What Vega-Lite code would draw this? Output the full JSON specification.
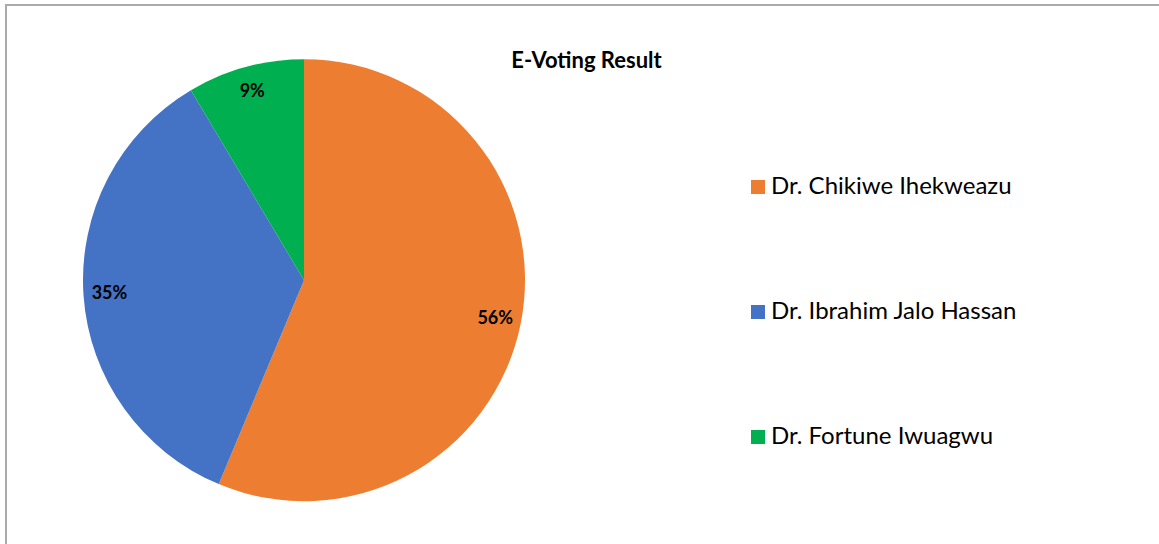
{
  "$schema": "https://vega.github.io/schema/vega-lite/v6.json",
  "width": 1155,
  "height": 541,
  "autosize": {"type": "none"},
  "padding": {"left": 6, "top": 5, "right": -2, "bottom": -2},
  "background": "white",
  "view": {"stroke": "#ABABAB", "strokeWidth": 2},
  "config": {
    "view": {"stroke": "#ABABAB", "strokeWidth": 2},
    "font": "Lato"
  },
  "title": {
    "text": "E-Voting Result",
    "font": "Lato",
    "fontSize": 22,
    "fontWeight": "bold",
    "color": "#000000",
    "anchor": "middle",
    "frame": "group",
    "baseline": "alphabetic",
    "offset": -85,
    "dx": 3
  },
  "data": {
    "values": [
      {"candidate": "Dr. Chikiwe Ihekweazu", "share": 0.563, "order": 1},
      {"candidate": "Dr. Ibrahim Jalo Hassan", "share": 0.3515, "order": 2},
      {"candidate": "Dr. Fortune Iwuagwu", "share": 0.0855, "order": 3}
    ]
  },
  "encoding": {
    "theta": {"field": "share", "type": "quantitative", "stack": true},
    "order": {"field": "order", "type": "quantitative"},
    "color": {
      "field": "candidate",
      "type": "nominal",
      "scale": {
        "domain": ["Dr. Chikiwe Ihekweazu", "Dr. Ibrahim Jalo Hassan", "Dr. Fortune Iwuagwu"],
        "range": ["#ED7D31", "#4472C4", "#00B050"]
      },
      "sort": null,
      "legend": {
        "title": null,
        "orient": "none",
        "legendX": 740,
        "legendY": 170,
        "symbolType": "square",
        "symbolSize": 196,
        "symbolStrokeWidth": 0,
        "labelFont": "Lato",
        "labelFontSize": 24,
        "labelColor": "#000000",
        "labelOffset": 1,
        "rowPadding": 101,
        "padding": 0,
        "labelLimit": 400
      }
    }
  },
  "layer": [
    {
      "mark": {"type": "arc", "x": 298, "y": 275.2, "outerRadius": 221, "stroke": null}
    },
    {
      "mark": {"type": "text", "x": 298, "y": 275.2, "radius": 195, "font": "Lato", "fontSize": 18, "fontWeight": "bold", "color": "#000000", "align": "center", "baseline": "middle"},
      "encoding": {
        "text": {"field": "share", "type": "quantitative", "format": ".0%"},
        "color": {"value": "#000000"}
      }
    }
  ]
}
